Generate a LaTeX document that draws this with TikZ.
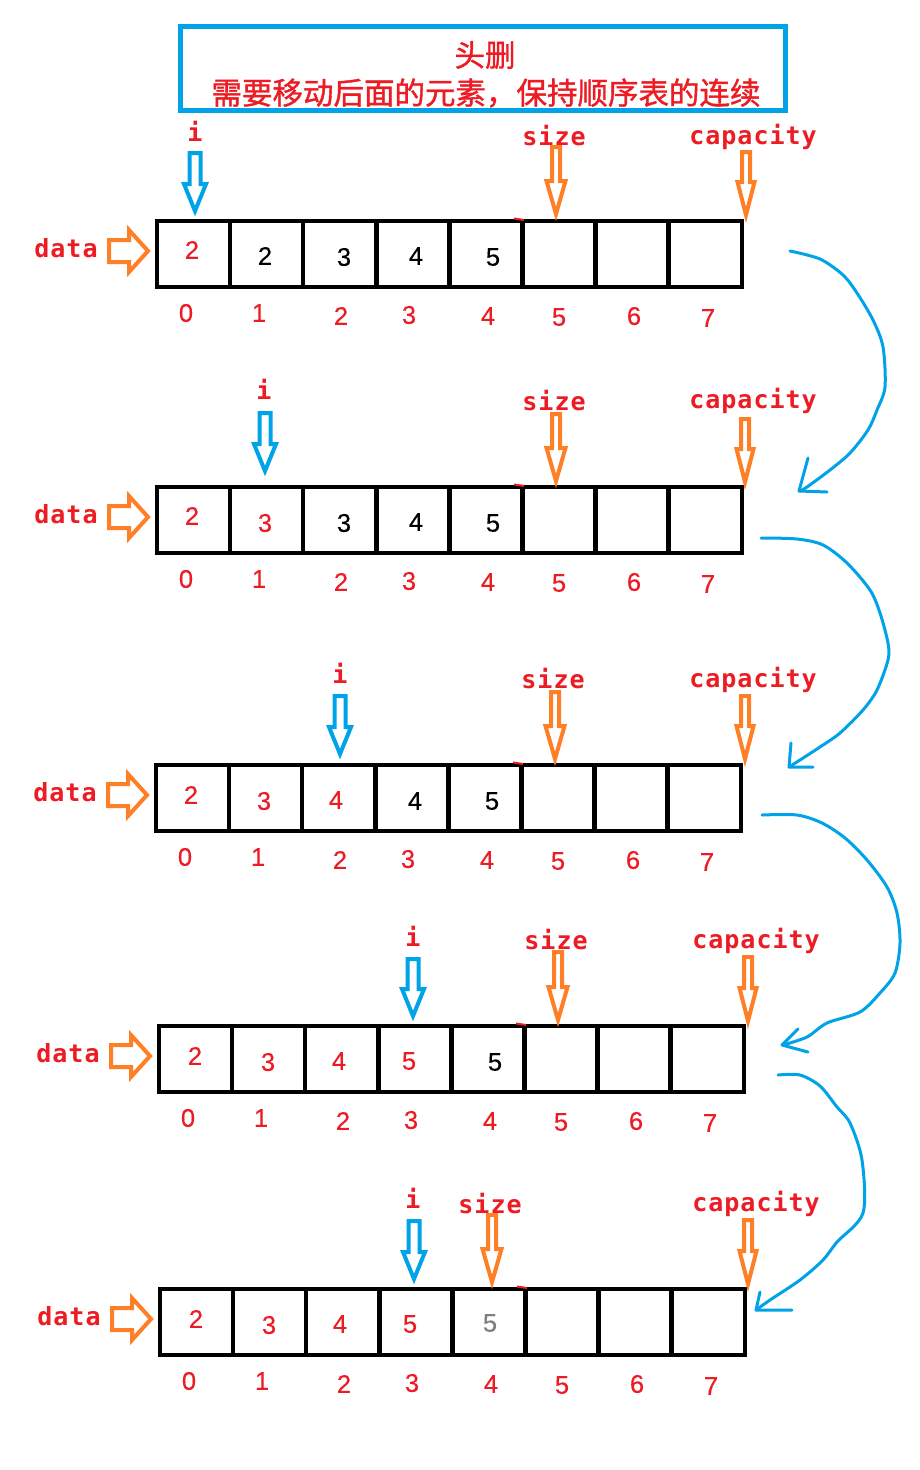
\documentclass[tikz,border=0pt]{standalone}
\usepackage{fontspec}
\setmainfont{Liberation Sans}
\newfontfamily\cjkfont[FakeBold=1.2]{Noto Sans CJK SC}
\newfontfamily\labfont[LetterSpace=4]{DejaVu Sans Mono}
\newfontfamily\digfont[FakeBold=0.4]{Liberation Sans}
\definecolor{pred}{HTML}{ED1C24}
\definecolor{porange}{HTML}{FF7F27}
\definecolor{pblue}{HTML}{00A2E8}
\definecolor{pgray}{HTML}{7F7F7F}
\tikzset{
  cell/.style={draw=black, line width=4.5pt, minimum width=73.1pt, minimum height=66pt, inner sep=0pt, outer sep=0pt, anchor=north west},
  num/.style={text=pred, font=\digfont\fontsize{25.5}{25.5}\selectfont, inner sep=0pt},
  val/.style={font=\digfont\fontsize{25.5}{25.5}\selectfont, inner sep=0pt},
  lab/.style={text=pred, font=\labfont\bfseries\fontsize{25}{25}\selectfont, inner sep=0pt, anchor=base},
  oarrow/.style={draw=porange, line width=4pt, line join=miter, fill=white},
  barrow/.style={draw=pblue, line width=4pt, line join=miter, fill=white},
  curve/.style={draw=pblue, line width=3pt, line cap=round, line join=round},
  tbox/.style={draw=pblue, line width=5pt},
  title/.style={text=pred, font=\cjkfont\fontsize{30.5}{30.5}\selectfont, inner sep=0pt}
}
% vertical hollow arrow: style, x, top, vertex, shaft half, head half, head length
\newcommand{\varr}[7]{\draw[#1] (#2-#5,#3) -- (#2+#5,#3) -- (#2+#5,#4-#7) -- (#2+#6,#4-#7) -- (#2,#4) -- (#2-#6,#4-#7) -- (#2-#5,#4-#7) -- cycle;}
% one array row: name, dx, dy
\newcommand{\arrayrow}[3]{%
  \begin{scope}[shift={(#2,#3)}]
    \foreach \k in {0,...,7} {\node[cell] (#1c\k) at ({157+73.1*\k},221) {};}
    \foreach \k/\ix/\iy in {0/186/313,1/259/313,2/341/316,3/409/315,4/488/316,5/559/317,6/634/316,7/708/318}
      {\node[num] (#1i\k) at (\ix,\iy) {\k};}
    \node[lab] (#1data) at (66,257) {data};
    \draw[oarrow] (109,240) -- (129,240) -- (129,230) -- (148,251) -- (129,272) -- (129,262) -- (109,262) -- cycle;
    \draw[pred, line width=2pt] (514,218.5) -- (524,220);
  \end{scope}}
% values of a row: name, dx, dy, then five index/x/y/colour/value entries
\newcommand{\rowvalues}[8]{%
  \begin{scope}[shift={(#2,#3)}]
    \foreach \k/\vx/\vy/\vc/\vv in {#4,#5,#6,#7,#8}
      {\node[val, text=\vc] (#1v\k) at (\vx,\vy) {\vv};}
  \end{scope}}
\begin{document}
\begin{tikzpicture}[x=1pt,y=-1pt]
\useasboundingbox[fill=white] (0,0) rectangle (919,1470);

% title
\draw[tbox] (180.5,26.5) rectangle (785.5,110.5);
\node[title] (t1) at (485,55) {头删};
\node[title] (t2) at (486,93) {需要移动后面的元素，保持顺序表的连续};

% rows
\arrayrow{a}{0}{0}
\rowvalues{a}{0}{0}{0/192/250/pred/2}{1/265/256/black/2}{2/344/257/black/3}{3/416/256/black/4}{4/493/257/black/5}
\arrayrow{b}{0}{266}
\rowvalues{b}{0}{266}{0/192/250/pred/2}{1/265/257/pred/3}{2/344/257/black/3}{3/416/256/black/4}{4/493/257/black/5}
\arrayrow{c}{-1}{544}
\rowvalues{c}{-1}{544}{0/192/251/pred/2}{1/265/257/pred/3}{2/337/256/pred/4}{3/416/257/black/4}{4/493/257/black/5}
\arrayrow{d}{2}{805}
\rowvalues{d}{2}{805}{0/193/251/pred/2}{1/266/257/pred/3}{2/337/256/pred/4}{3/407/256/pred/5}{4/493/257/black/5}
\arrayrow{e}{3}{1068}
\rowvalues{e}{3}{1068}{0/193/251/pred/2}{1/266/257/pred/3}{2/337/256/pred/4}{3/407/256/pred/5}{4/487/255/pgray/5}

% pointer labels
\node[lab] (ai) at (195,141) {i};
\node[lab] (as) at (554,145) {size};
\node[lab] (ac) at (753,144) {capacity};
\node[lab] (bi) at (264,399) {i};
\node[lab] (bs) at (554,410) {size};
\node[lab] (bc) at (753,408) {capacity};
\node[lab] (ci) at (340,683) {i};
\node[lab] (cs) at (553,688) {size};
\node[lab] (cc) at (753,687) {capacity};
\node[lab] (di) at (413,946) {i};
\node[lab] (ds) at (556,949) {size};
\node[lab] (dc) at (756,948) {capacity};
\node[lab] (ei) at (413,1208) {i};
\node[lab] (es) at (490,1213) {size};
\node[lab] (ec) at (756,1211) {capacity};

% pointer arrows
\varr{barrow}{195}{153}{211}{5.5}{11}{27}
\varr{oarrow}{556}{147}{214}{4}{9.5}{33}
\varr{oarrow}{746}{152}{215}{4}{8.5}{33}
\varr{barrow}{265}{413}{471}{5.5}{11}{27}
\varr{oarrow}{556}{414}{481}{4}{9.5}{33}
\varr{oarrow}{745}{419}{482}{4}{8.5}{33}
\varr{barrow}{340}{696}{754}{5.5}{11}{27}
\varr{oarrow}{555}{692}{759}{4}{9.5}{33}
\varr{oarrow}{745}{696}{759}{4}{8.5}{33}
\varr{barrow}{413}{959}{1016}{5.5}{11}{27}
\varr{oarrow}{558}{952}{1020}{4}{9.5}{33}
\varr{oarrow}{748}{957}{1021}{4}{8.5}{33}
\varr{barrow}{414}{1221}{1279}{5.5}{11}{27}
\varr{oarrow}{492}{1215}{1282}{4}{9.5}{33}
\varr{oarrow}{748}{1220}{1284}{4}{8.5}{33}

% curved transition arrows
\draw[curve] plot[smooth, tension=0.5] coordinates {(790,251) (820,259) (843,275) (857,293) (873,320) (883,347) (885,387) (877,410) (868,430) (850,453) (830,470) (807,487) (800,491)};
\draw[curve] (808,458) -- (799,491) -- (827,492);
\draw[curve] plot[smooth, tension=0.5] coordinates {(761,538) (797,539) (823,545) (847,563) (870,590) (880,613) (888,643) (888,660) (877,690) (863,710) (840,733) (820,747) (800,760) (789,767)};
\draw[curve] (791,743) -- (789,767) -- (813,767);
\draw[curve] plot[smooth, tension=0.5] coordinates {(762,815) (797,815) (822,823) (845,838) (867,860) (887,887) (897,913) (900,943) (895,973) (880,993) (860,1012) (827,1023) (807,1037) (783,1045)};
\draw[curve] (798,1029) -- (782,1045) -- (808,1052);
\draw[curve] plot[smooth, tension=0.5] coordinates {(778,1075) (800,1075) (820,1086) (837,1107) (850,1123) (862,1160) (863,1213) (837,1242) (823,1260) (800,1280) (770,1300) (756,1310)};
\draw[curve] (760,1292) -- (756,1310) -- (792,1310);
\end{tikzpicture}
\end{document}
